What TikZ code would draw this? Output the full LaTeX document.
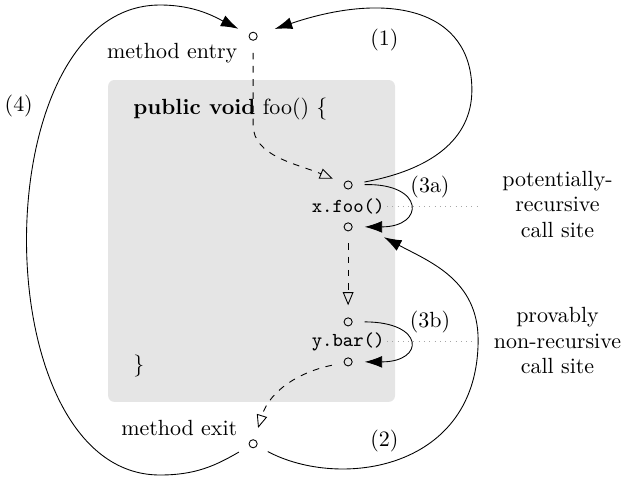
\documentclass[tikz,border=0pt]{standalone}
\usetikzlibrary{arrows.meta}

\begin{document}
\begin{tikzpicture}[
    % Estilos de nodos y conectores
    vtx/.style={circle, draw, minimum size=1.3mm, inner sep=0pt, outer sep=0.2cm},
    codetxt/.style={font=\small\ttfamily, inner sep=1pt},
    note/.style={align=center, font=\fontsize{10}{11.5}\selectfont},
    flow/.style={dashed, -{Triangle[open, length=2.1mm, width=1.7mm]}},
    jump/.style={-{Latex[length=2.8mm, width=1.9mm]}},
    guide/.style={gray!70, dotted}
]
\useasboundingbox (0,0) rectangle (9.968,-7.664);

% ---------------------------------------------------------
% 1. CUERPO DEL METODO (caja gris y texto)
% ---------------------------------------------------------
\fill[gray!20, rounded corners=1mm] (1.73,-1.28) rectangle (6.32,-6.43);
\node[anchor=west] (sig) at (2.01,-1.75) {\textbf{public void} foo() \{};
\node[anchor=west] (close) at (2.01,-5.86) {\}};

% ---------------------------------------------------------
% 2. PUNTOS DEL GRAFO
% ---------------------------------------------------------
\node[vtx] (entry) at (4.05,-0.58) {};
\node[anchor=east] (entrylbl) at (3.92,-0.856) {method entry};

\node[vtx] (fooin) at (5.57,-2.96) {};
\node[codetxt] (footxt) at (5.57,-3.31) {x.foo()};
\node[vtx] (fooout) at (5.57,-3.63) {};

\node[vtx] (barin) at (5.57,-5.15) {};
\node[codetxt] (bartxt) at (5.57,-5.47) {y.bar()};
\node[vtx] (barout) at (5.57,-5.79) {};

\node[vtx] (exit) at (4.05,-7.10) {};
\node[anchor=east] (exitlbl) at (3.92,-6.84) {method exit};

% Notas a la derecha
\node[note] (pot) at (8.92,-3.27) {potentially-\\recursive\\call site};
\node[note] (prov) at (8.92,-5.45) {provably\\non-recursive\\call site};

% Etiquetas de los saltos
\node (l1) at (6.15,-0.64) {(1)};
\node (l2) at (6.15,-7.06) {(2)};
\node (l3a) at (6.88,-3.0) {(3a)};
\node (l3b) at (6.88,-5.15) {(3b)};
\node (l4) at (0.30,-1.70) {(4)};

% ---------------------------------------------------------
% 3. FLUJO INTRAPROCEDURAL (discontinuo)
% ---------------------------------------------------------
\draw[flow] (entry) -- (4.05,-2.0) .. controls (4.05,-2.5) and (4.75,-2.62) .. (fooin);
\draw[flow] (fooout) -- (barin);
\draw[flow] (barout) .. controls (4.8,-5.95) and (4.32,-6.24) .. (exit);

% ---------------------------------------------------------
% 4. SALTOS (1) a (4)
% ---------------------------------------------------------
\draw[jump, shorten >=0.1cm] (fooin) .. controls (6.88,-2.72) and (7.55,-2.24) .. (7.55,-1.44)
    .. controls (7.55,-0.16) and (6.24,0.16) .. (entry);
\draw[jump, shorten >=0.35cm] (exit) .. controls (5.44,-7.84) and (7.65,-7.52) .. (7.65,-5.44)
    .. controls (7.65,-4.48) and (6.88,-4.19) .. (fooout.east);
\draw[jump] (fooin) .. controls (6.8,-2.93) and (6.8,-3.63) .. (fooout);
\draw[jump] (barin) .. controls (6.8,-5.15) and (6.8,-5.79) .. (barout);
\draw[jump] (exit) .. controls (3.44,-7.456) and (3.12,-7.6) .. (2.56,-7.6)
    .. controls (-0.288,-7.6) and (-0.288,-0.08) .. (2.56,-0.08)
    .. controls (3.12,-0.08) and (3.44,-0.272) .. (entry);

% Lineas guia hacia las notas
\draw[guide, shorten >=0.26cm] (footxt.east) -- (footxt.east -| pot.west);
\draw[guide, shorten >=0.19cm] (bartxt.east) -- (bartxt.east -| prov.west);

\end{tikzpicture}
\end{document}
